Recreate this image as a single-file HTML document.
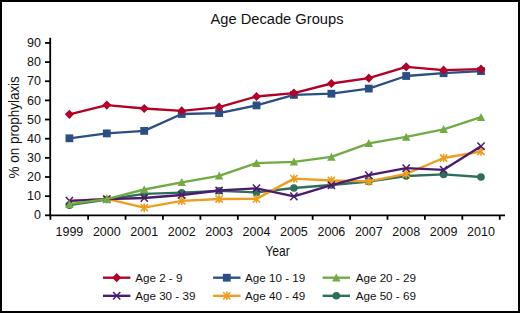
<!DOCTYPE html>
<html><head><meta charset="utf-8"><title>Age Decade Groups</title>
<style>
html,body{margin:0;padding:0;background:#fff;}
body{width:520px;height:313px;overflow:hidden;}
svg{display:block;}
text{font-family:"Liberation Sans",sans-serif;fill:#111;}
</style></head><body>
<svg width="520" height="313" viewBox="0 0 520 313">
<rect x="0" y="0" width="520" height="313" fill="#fff"/>
<rect x="1" y="1" width="518" height="311" fill="none" stroke="#000" stroke-width="2"/>
<text x="277" y="23.6" font-size="14.7" text-anchor="middle">Age Decade Groups</text>

<g stroke="#000" stroke-width="1.8" fill="none">
<path d="M50.2 37.8V216.1"/>
<path d="M49.4 215.3H505"/>
<path d="M45 215.30H50.2"/>
<path d="M45 196.15H50.2"/>
<path d="M45 177.00H50.2"/>
<path d="M45 157.85H50.2"/>
<path d="M45 138.70H50.2"/>
<path d="M45 119.55H50.2"/>
<path d="M45 100.40H50.2"/>
<path d="M45 81.25H50.2"/>
<path d="M45 62.10H50.2"/>
<path d="M45 42.95H50.2"/>
<path d="M88.12 215.3V219.8"/>
<path d="M125.54 215.3V219.8"/>
<path d="M162.96 215.3V219.8"/>
<path d="M200.38 215.3V219.8"/>
<path d="M237.80 215.3V219.8"/>
<path d="M275.22 215.3V219.8"/>
<path d="M312.64 215.3V219.8"/>
<path d="M350.06 215.3V219.8"/>
<path d="M387.48 215.3V219.8"/>
<path d="M424.90 215.3V219.8"/>
<path d="M462.32 215.3V219.8"/>
<path d="M499.74 215.3V219.8"/>
<path d="M50.4 215.3V219.8"/>
</g>
<text x="41" y="219.4" font-size="12.5" text-anchor="end">0</text>
<text x="41" y="200.2" font-size="12.5" text-anchor="end">10</text>
<text x="41" y="181.1" font-size="12.5" text-anchor="end">20</text>
<text x="41" y="162.0" font-size="12.5" text-anchor="end">30</text>
<text x="41" y="142.8" font-size="12.5" text-anchor="end">40</text>
<text x="41" y="123.7" font-size="12.5" text-anchor="end">50</text>
<text x="41" y="104.5" font-size="12.5" text-anchor="end">60</text>
<text x="41" y="85.4" font-size="12.5" text-anchor="end">70</text>
<text x="41" y="66.2" font-size="12.5" text-anchor="end">80</text>
<text x="41" y="47.1" font-size="12.5" text-anchor="end">90</text>
<text x="69.4" y="236" font-size="12.5" text-anchor="middle">1999</text>
<text x="106.8" y="236" font-size="12.5" text-anchor="middle">2000</text>
<text x="144.2" y="236" font-size="12.5" text-anchor="middle">2001</text>
<text x="181.7" y="236" font-size="12.5" text-anchor="middle">2002</text>
<text x="219.1" y="236" font-size="12.5" text-anchor="middle">2003</text>
<text x="256.5" y="236" font-size="12.5" text-anchor="middle">2004</text>
<text x="293.9" y="236" font-size="12.5" text-anchor="middle">2005</text>
<text x="331.4" y="236" font-size="12.5" text-anchor="middle">2006</text>
<text x="368.8" y="236" font-size="12.5" text-anchor="middle">2007</text>
<text x="406.2" y="236" font-size="12.5" text-anchor="middle">2008</text>
<text x="443.6" y="236" font-size="12.5" text-anchor="middle">2009</text>
<text x="481.0" y="236" font-size="12.5" text-anchor="middle">2010</text>
<text x="265.2" y="255.6" font-size="14.6" textLength="24.5" lengthAdjust="spacingAndGlyphs">Year</text>
<text transform="translate(19.4,178.4) rotate(-90)" font-size="14" textLength="102.2" lengthAdjust="spacingAndGlyphs">% on prophylaxis</text>
<polyline points="69.4,205.2 106.8,199.5 144.2,193.8 181.7,192.7 219.1,190.8 256.5,192.4 293.9,188.0 331.4,185.0 368.8,181.5 406.2,176.0 443.6,174.4 481.0,177.0" fill="none" stroke="#2d6f5a" stroke-width="2.35" stroke-linejoin="round"/>
<circle cx="69.4" cy="205.2" r="3.8" fill="#2d6f5a"/>
<circle cx="106.8" cy="199.5" r="3.8" fill="#2d6f5a"/>
<circle cx="144.2" cy="193.8" r="3.8" fill="#2d6f5a"/>
<circle cx="181.7" cy="192.7" r="3.8" fill="#2d6f5a"/>
<circle cx="219.1" cy="190.8" r="3.8" fill="#2d6f5a"/>
<circle cx="256.5" cy="192.4" r="3.8" fill="#2d6f5a"/>
<circle cx="293.9" cy="188.0" r="3.8" fill="#2d6f5a"/>
<circle cx="331.4" cy="185.0" r="3.8" fill="#2d6f5a"/>
<circle cx="368.8" cy="181.5" r="3.8" fill="#2d6f5a"/>
<circle cx="406.2" cy="176.0" r="3.8" fill="#2d6f5a"/>
<circle cx="443.6" cy="174.4" r="3.8" fill="#2d6f5a"/>
<circle cx="481.0" cy="177.0" r="3.8" fill="#2d6f5a"/>
<polyline points="69.4,200.9 106.8,198.9 144.2,207.7 181.7,200.8 219.1,199.0 256.5,198.9 293.9,178.6 331.4,180.5 368.8,181.3 406.2,173.8 443.6,158.0 481.0,151.5" fill="none" stroke="#ec9f1f" stroke-width="2.35" stroke-linejoin="round"/>
<path d="M103.2 195.3L110.4 202.5M110.4 195.3L103.2 202.5M106.8 194.7L106.8 203.1" stroke="#ec9f1f" stroke-width="1.6" fill="none"/>
<path d="M140.7 204.1L147.8 211.3M147.8 204.1L140.7 211.3M144.2 203.5L144.2 211.9" stroke="#ec9f1f" stroke-width="1.6" fill="none"/>
<path d="M178.1 197.2L185.3 204.4M185.3 197.2L178.1 204.4M181.7 196.6L181.7 205.0" stroke="#ec9f1f" stroke-width="1.6" fill="none"/>
<path d="M215.5 195.4L222.7 202.6M222.7 195.4L215.5 202.6M219.1 194.8L219.1 203.2" stroke="#ec9f1f" stroke-width="1.6" fill="none"/>
<path d="M252.9 195.3L260.1 202.5M260.1 195.3L252.9 202.5M256.5 194.7L256.5 203.1" stroke="#ec9f1f" stroke-width="1.6" fill="none"/>
<path d="M290.3 175.0L297.5 182.2M297.5 175.0L290.3 182.2M293.9 174.4L293.9 182.8" stroke="#ec9f1f" stroke-width="1.6" fill="none"/>
<path d="M327.8 176.9L335.0 184.1M335.0 176.9L327.8 184.1M331.4 176.3L331.4 184.7" stroke="#ec9f1f" stroke-width="1.6" fill="none"/>
<path d="M365.2 177.7L372.4 184.9M372.4 177.7L365.2 184.9M368.8 177.1L368.8 185.5" stroke="#ec9f1f" stroke-width="1.6" fill="none"/>
<path d="M402.6 170.2L409.8 177.4M409.8 170.2L402.6 177.4M406.2 169.6L406.2 178.0" stroke="#ec9f1f" stroke-width="1.6" fill="none"/>
<path d="M440.0 154.4L447.2 161.6M447.2 154.4L440.0 161.6M443.6 153.8L443.6 162.2" stroke="#ec9f1f" stroke-width="1.6" fill="none"/>
<path d="M477.4 147.9L484.6 155.1M484.6 147.9L477.4 155.1M481.0 147.3L481.0 155.7" stroke="#ec9f1f" stroke-width="1.6" fill="none"/>
<polyline points="69.4,200.8 106.8,199.2 144.2,198.0 181.7,195.0 219.1,190.5 256.5,188.3 293.9,196.4 331.4,185.2 368.8,175.2 406.2,168.2 443.6,169.8 481.0,146.2" fill="none" stroke="#4b1c6e" stroke-width="2.35" stroke-linejoin="round"/>
<path d="M65.8 197.0L73.0 204.6M73.0 197.0L65.8 204.6" stroke="#4b1c6e" stroke-width="1.5" fill="none"/>
<path d="M103.2 195.4L110.4 203.0M110.4 195.4L103.2 203.0" stroke="#4b1c6e" stroke-width="1.5" fill="none"/>
<path d="M140.7 194.2L147.8 201.8M147.8 194.2L140.7 201.8" stroke="#4b1c6e" stroke-width="1.5" fill="none"/>
<path d="M178.1 191.2L185.3 198.8M185.3 191.2L178.1 198.8" stroke="#4b1c6e" stroke-width="1.5" fill="none"/>
<path d="M215.5 186.7L222.7 194.3M222.7 186.7L215.5 194.3" stroke="#4b1c6e" stroke-width="1.5" fill="none"/>
<path d="M252.9 184.5L260.1 192.1M260.1 184.5L252.9 192.1" stroke="#4b1c6e" stroke-width="1.5" fill="none"/>
<path d="M290.3 192.6L297.5 200.2M297.5 192.6L290.3 200.2" stroke="#4b1c6e" stroke-width="1.5" fill="none"/>
<path d="M327.8 181.4L335.0 189.0M335.0 181.4L327.8 189.0" stroke="#4b1c6e" stroke-width="1.5" fill="none"/>
<path d="M365.2 171.4L372.4 179.0M372.4 171.4L365.2 179.0" stroke="#4b1c6e" stroke-width="1.5" fill="none"/>
<path d="M402.6 164.4L409.8 172.0M409.8 164.4L402.6 172.0" stroke="#4b1c6e" stroke-width="1.5" fill="none"/>
<path d="M440.0 166.0L447.2 173.6M447.2 166.0L440.0 173.6" stroke="#4b1c6e" stroke-width="1.5" fill="none"/>
<path d="M477.4 142.4L484.6 150.0M484.6 142.4L477.4 150.0" stroke="#4b1c6e" stroke-width="1.5" fill="none"/>
<polyline points="69.4,204.2 106.8,199.2 144.2,189.5 181.7,182.3 219.1,175.8 256.5,163.1 293.9,161.8 331.4,156.9 368.8,143.3 406.2,136.9 443.6,129.3 481.0,117.2" fill="none" stroke="#72aa44" stroke-width="2.35" stroke-linejoin="round"/>
<path d="M69.4 200.0L73.6 208.0L65.2 208.0Z" fill="#72aa44"/>
<path d="M106.8 195.0L111.0 203.0L102.6 203.0Z" fill="#72aa44"/>
<path d="M144.2 185.3L148.4 193.3L140.1 193.3Z" fill="#72aa44"/>
<path d="M181.7 178.1L185.9 186.1L177.5 186.1Z" fill="#72aa44"/>
<path d="M219.1 171.6L223.3 179.6L214.9 179.6Z" fill="#72aa44"/>
<path d="M256.5 158.9L260.7 166.9L252.3 166.9Z" fill="#72aa44"/>
<path d="M293.9 157.6L298.1 165.6L289.7 165.6Z" fill="#72aa44"/>
<path d="M331.4 152.7L335.6 160.7L327.2 160.7Z" fill="#72aa44"/>
<path d="M368.8 139.1L373.0 147.1L364.6 147.1Z" fill="#72aa44"/>
<path d="M406.2 132.7L410.4 140.7L402.0 140.7Z" fill="#72aa44"/>
<path d="M443.6 125.1L447.8 133.1L439.4 133.1Z" fill="#72aa44"/>
<path d="M481.0 113.0L485.2 121.0L476.8 121.0Z" fill="#72aa44"/>
<polyline points="69.4,138.3 106.8,133.4 144.2,130.9 181.7,114.0 219.1,113.1 256.5,105.4 293.9,94.9 331.4,93.7 368.8,88.6 406.2,76.0 443.6,73.2 481.0,71.1" fill="none" stroke="#2b4f85" stroke-width="2.35" stroke-linejoin="round"/>
<rect x="65.5" y="134.4" width="7.8" height="7.8" fill="#2b4f85"/>
<rect x="102.9" y="129.5" width="7.8" height="7.8" fill="#2b4f85"/>
<rect x="140.3" y="127.0" width="7.8" height="7.8" fill="#2b4f85"/>
<rect x="177.8" y="110.1" width="7.8" height="7.8" fill="#2b4f85"/>
<rect x="215.2" y="109.2" width="7.8" height="7.8" fill="#2b4f85"/>
<rect x="252.6" y="101.5" width="7.8" height="7.8" fill="#2b4f85"/>
<rect x="290.0" y="91.0" width="7.8" height="7.8" fill="#2b4f85"/>
<rect x="327.5" y="89.8" width="7.8" height="7.8" fill="#2b4f85"/>
<rect x="364.9" y="84.7" width="7.8" height="7.8" fill="#2b4f85"/>
<rect x="402.3" y="72.1" width="7.8" height="7.8" fill="#2b4f85"/>
<rect x="439.7" y="69.3" width="7.8" height="7.8" fill="#2b4f85"/>
<rect x="477.1" y="67.2" width="7.8" height="7.8" fill="#2b4f85"/>
<polyline points="69.4,114.3 106.8,105.1 144.2,108.5 181.7,110.9 219.1,107.2 256.5,96.5 293.9,93.1 331.4,83.5 368.8,78.2 406.2,66.8 443.6,70.2 481.0,69.2" fill="none" stroke="#b20029" stroke-width="2.35" stroke-linejoin="round"/>
<path d="M64.9 114.3L69.4 109.7L73.9 114.3L69.4 118.9Z" fill="#b20029"/>
<path d="M102.3 105.1L106.8 100.5L111.3 105.1L106.8 109.7Z" fill="#b20029"/>
<path d="M139.8 108.5L144.2 103.9L148.8 108.5L144.2 113.1Z" fill="#b20029"/>
<path d="M177.2 110.9L181.7 106.3L186.2 110.9L181.7 115.5Z" fill="#b20029"/>
<path d="M214.6 107.2L219.1 102.6L223.6 107.2L219.1 111.8Z" fill="#b20029"/>
<path d="M252.0 96.5L256.5 91.9L261.0 96.5L256.5 101.1Z" fill="#b20029"/>
<path d="M289.4 93.1L293.9 88.5L298.4 93.1L293.9 97.7Z" fill="#b20029"/>
<path d="M326.9 83.5L331.4 78.9L335.9 83.5L331.4 88.1Z" fill="#b20029"/>
<path d="M364.3 78.2L368.8 73.6L373.3 78.2L368.8 82.8Z" fill="#b20029"/>
<path d="M401.7 66.8L406.2 62.2L410.7 66.8L406.2 71.4Z" fill="#b20029"/>
<path d="M439.1 70.2L443.6 65.6L448.1 70.2L443.6 74.8Z" fill="#b20029"/>
<path d="M476.5 69.2L481.0 64.6L485.5 69.2L481.0 73.8Z" fill="#b20029"/>
<path d="M103.0 277.7H130.4" stroke="#b20029" stroke-width="2.35"/>
<path d="M112.2 277.7L116.7 273.1L121.2 277.7L116.7 282.3Z" fill="#b20029"/>
<text x="135.2" y="281.7" font-size="11.65">Age 2 - 9</text>
<path d="M213.1 277.7H240.5" stroke="#2b4f85" stroke-width="2.35"/>
<rect x="222.9" y="273.8" width="7.8" height="7.8" fill="#2b4f85"/>
<text x="245.0" y="281.7" font-size="11.65">Age 10 - 19</text>
<path d="M322.6 277.7H350.0" stroke="#72aa44" stroke-width="2.35"/>
<path d="M336.3 273.5L340.5 281.5L332.1 281.5Z" fill="#72aa44"/>
<text x="355.7" y="281.7" font-size="11.65">Age 20 - 29</text>
<path d="M103.0 295.8H130.4" stroke="#4b1c6e" stroke-width="2.35"/>
<path d="M113.1 292.0L120.3 299.6M120.3 292.0L113.1 299.6" stroke="#4b1c6e" stroke-width="1.5" fill="none"/>
<text x="135.2" y="299.8" font-size="11.65">Age 30 - 39</text>
<path d="M213.1 295.8H240.5" stroke="#ec9f1f" stroke-width="2.35"/>
<path d="M223.2 292.2L230.4 299.4M230.4 292.2L223.2 299.4M226.8 291.6L226.8 300.0" stroke="#ec9f1f" stroke-width="1.6" fill="none"/>
<text x="245.0" y="299.8" font-size="11.65">Age 40 - 49</text>
<path d="M322.6 295.8H350.0" stroke="#2d6f5a" stroke-width="2.35"/>
<circle cx="336.3" cy="295.8" r="3.8" fill="#2d6f5a"/>
<text x="355.7" y="299.8" font-size="11.65">Age 50 - 69</text>
</svg></body></html>
